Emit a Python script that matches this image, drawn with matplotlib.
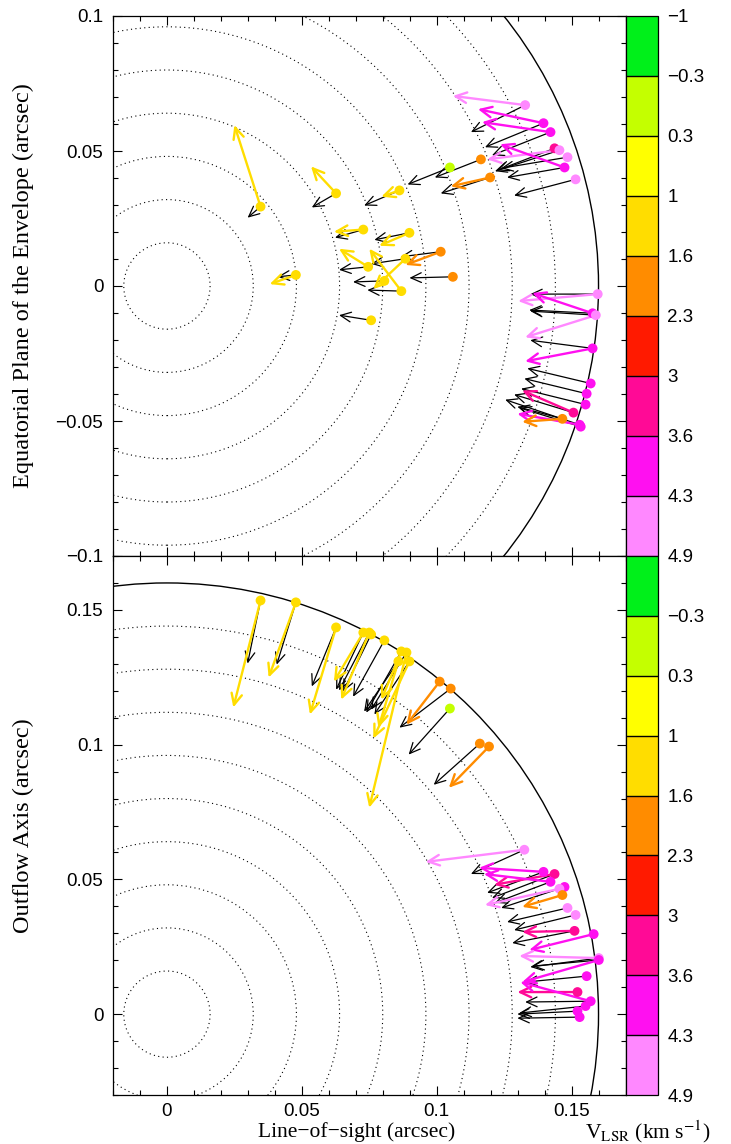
import numpy as np
import matplotlib
matplotlib.use("Agg")
import matplotlib.pyplot as plt
from matplotlib.colors import ListedColormap, BoundaryNorm
from matplotlib.patches import Circle
from matplotlib.ticker import MultipleLocator, FixedLocator

# ---------------- data ----------------
vel_bounds = [-1, -0.3, 0.3, 1, 1.6, 2.3, 3, 3.6, 4.3, 4.9]
vel_labels = ["\u22121", "\u22120.3", "0.3", "1", "1.6", "2.3", "3", "3.6", "4.3", "4.9"]
band_colors = ["#00f01a", "#c4ff00", "#ffff00", "#ffdd00", "#ff8c00",
               "#ff1a00", "#ff0a96", "#ff10f0", "#ff88ff"]

ring_radii = [0.016, 0.032, 0.048, 0.064, 0.080, 0.096, 0.112, 0.128, 0.144]
shell_radius = 0.16

# Top panel (equatorial plane): spot position, velocity, coloured-arrow tip, black-arrow tip
top_x = [0.0347, 0.0627, 0.0862, 0.0478, 0.0728, 0.0899, 0.0746, 0.0869, 0.0884, 0.0806,
         0.1015, 0.1060, 0.0757, 0.1328, 0.1396, 0.1422, 0.1437, 0.1455, 0.1485, 0.1474,
         0.1515, 0.1164, 0.1198, 0.1049, 0.1597, 0.1578, 0.1590, 0.1578, 0.1571, 0.1556,
         0.1552, 0.1507, 0.1530, 0.1466, 0.1534]
top_y = [0.0294, 0.0343, 0.0354, 0.0041, 0.0209, 0.0197, 0.0071, -0.0019, 0.0101, 0.0019,
         0.0127, 0.0034, -0.0127, 0.0670, 0.0603, 0.0570, 0.0510, 0.0503, 0.0477, 0.0439,
         0.0395, 0.0469, 0.0402, 0.0439, -0.0030, -0.0101, -0.0108, -0.0231, -0.0361, -0.0399,
         -0.0439, -0.0469, -0.0514, -0.0492, -0.0521]
top_v = [1.3, 1.3, 1.3, 1.3, 1.3, 1.3, 1.3, 1.3, 1.3, 1.3,
         2.0, 2.0, 1.3, 4.6, 4.0, 4.0, 3.3, 4.6, 4.6, 4.0,
         4.6, 2.0, 2.0, 0.0, 4.6, 4.0, 4.6, 4.0, 4.0, 4.0,
         4.0, 3.3, 4.0, 2.0, 4.0]
nan = np.nan
top_cx = [0.0250, 0.0534, 0.0795, 0.0381, 0.0619, 0.0787, 0.0638, 0.0750, 0.0765, nan,
          0.0884, nan, nan, 0.1060, 0.1153, 0.1168, nan, 0.1187, nan, 0.1235,
          nan, nan, 0.1052, nan, 0.1302, 0.1354, 0.1328, 0.1328, nan, nan,
          nan, 0.1317, 0.1299, 0.1317, nan]
top_cy = [0.0596, 0.0443, 0.0331, 0.0007, 0.0201, 0.0149, 0.0138, 0.0138, -0.0011, nan,
          0.0078, nan, nan, 0.0704, 0.0655, 0.0607, nan, 0.0469, nan, 0.0525,
          nan, nan, 0.0369, nan, -0.0056, -0.0026, -0.0190, -0.0279, nan, nan,
          nan, -0.0387, -0.0473, -0.0503, nan]
top_bx = [0.0299, 0.0537, 0.0731, 0.0410, 0.0623, 0.0769, 0.0638, 0.0743, 0.0757, 0.0690,
          0.0866, 0.0899, 0.0638, 0.1127, 0.1179, 0.1205, 0.1224, 0.1216, 0.1239, 0.1261,
          0.1287, 0.0993, 0.1015, 0.0892, 0.1347, 0.1343, 0.1347, 0.1347, 0.1336, 0.1325,
          0.1313, 0.1287, 0.1254, 0.1299, 0.1306]
top_by = [0.0253, 0.0291, 0.0298, 0.0034, 0.0179, 0.0171, 0.0060, -0.0015, 0.0082, 0.0015,
          0.0108, 0.0030, -0.0108, 0.0570, 0.0514, 0.0484, 0.0428, 0.0425, 0.0436, 0.0402,
          0.0335, 0.0402, 0.0343, 0.0376, -0.0030, -0.0089, -0.0093, -0.0201, -0.0305, -0.0343,
          -0.0380, -0.0402, -0.0421, -0.0447, -0.0451]

# Bottom panel (outflow axis)
bot_x = [0.0347, 0.0478, 0.0627, 0.0728, 0.0750, 0.0757, 0.0806, 0.0869, 0.0888, 0.0899,
         0.0858, 0.1011, 0.1052, 0.1049, 0.1160, 0.1194, 0.1325, 0.1396, 0.1437, 0.1422,
         0.1474, 0.1455, 0.1466, 0.1485, 0.1515, 0.1511, 0.1582, 0.1601, 0.1601, 0.1556,
         0.1522, 0.1571, 0.1552, 0.1522, 0.1530]
bot_y = [0.1535, 0.1528, 0.1435, 0.1416, 0.1416, 0.1409, 0.1387, 0.1346, 0.1342, 0.1309,
         0.1309, 0.1234, 0.1208, 0.1134, 0.1004, 0.0993, 0.0610, 0.0528, 0.0520, 0.0491,
         0.0472, 0.0465, 0.0442, 0.0394, 0.0368, 0.0309, 0.0297, 0.0208, 0.0201, 0.0141,
         0.0082, 0.0048, 0.0030, 0.0011, -0.0011]
bot_v = [1.3, 1.3, 1.3, 1.3, 1.3, 1.3, 1.3, 1.3, 1.3, 1.3,
         1.3, 2.0, 2.0, 0.0, 2.0, 2.0, 4.6, 4.0, 3.3, 4.0,
         4.0, 4.6, 2.0, 4.6, 4.6, 3.3, 4.0, 4.6, 4.0, 4.0,
         3.3, 4.0, 4.0, 4.0, 4.0]
bot_cx = [0.0246, 0.0377, 0.0530, 0.0619, 0.0646, nan, nan, 0.0795, 0.0750, 0.0765,
          0.0784, 0.0888, nan, nan, nan, 0.1045, 0.0959, 0.1157, 0.1213, 0.1175,
          nan, 0.1179, 0.1317, nan, nan, 0.1317, 0.1343, 0.1306, 0.1317, nan,
          0.1299, 0.1310, nan, nan, nan]
bot_cy = [0.1138, 0.1249, 0.1112, 0.1234, 0.1167, nan, nan, 0.1167, 0.0766, 0.1023,
          0.1063, 0.1074, nan, nan, nan, 0.0840, 0.0565, 0.0543, 0.0480, 0.0520,
          nan, 0.0405, 0.0398, nan, nan, 0.0305, 0.0238, 0.0216, 0.0119, nan,
          0.0082, 0.0119, nan, nan, nan]
bot_bx = [0.0299, 0.0407, 0.0537, 0.0627, 0.0638, 0.0653, 0.0690, 0.0739, 0.0757, 0.0769,
          0.0731, nan, 0.0862, 0.0896, 0.0989, nan, 0.1127, 0.1187, 0.1205, 0.1216,
          0.1239, nan, nan, 0.1261, 0.1287, 0.1280, nan, 0.1347, 0.1354, 0.1328,
          nan, 0.1328, 0.1306, 0.1299, 0.1299]
bot_by = [0.1301, 0.1297, 0.1216, 0.1204, 0.1201, 0.1197, 0.1178, 0.1119, 0.1130, 0.1112,
          0.1123, nan, 0.1063, 0.0963, 0.0851, nan, 0.0520, 0.0450, 0.0431, 0.0413,
          0.0394, nan, nan, 0.0342, 0.0312, 0.0264, nan, 0.0175, 0.0178, 0.0119,
          nan, 0.0045, 0.0004, 0.0000, -0.0015]

# ---------------- figure ----------------
W, H = 731, 1144
fig = plt.figure(figsize=(W / 100, H / 100), dpi=100)
plt.rcParams["mathtext.fontset"] = "stix"

cmap = ListedColormap(band_colors)
norm = BoundaryNorm(vel_bounds, cmap.N)

tick_font = dict(family="Liberation Sans", size=13.5)
ylab_font = dict(family="Liberation Serif", size=17.5)
xlab_font = dict(family="Liberation Serif", size=15.5)


def px_rect(x0, y0, x1, y1):
    return [x0 / W, 1 - y1 / H, (x1 - x0) / W, (y1 - y0) / H]


def style_axes(ax, xlim, ylim, yticks, ylabels, show_x):
    ax.set_xlim(*xlim)
    ax.set_ylim(*ylim)
    ax.xaxis.set_major_locator(FixedLocator([0, 0.05, 0.1, 0.15]))
    ax.xaxis.set_minor_locator(MultipleLocator(0.01))
    ax.yaxis.set_major_locator(FixedLocator(yticks))
    ax.yaxis.set_minor_locator(MultipleLocator(0.01))
    ax.tick_params(which="both", direction="in", top=True, right=True, width=0.8)
    ax.tick_params(which="major", length=6.5)
    ax.tick_params(which="minor", length=3.5)
    ax.tick_params(axis="y", pad=7)
    ax.tick_params(axis="x", pad=6)
    ax.set_yticklabels(ylabels, **tick_font)
    if show_x:
        ax.set_xticklabels(["0", "0.05", "0.1", "0.15"], **tick_font)
    else:
        ax.set_xticklabels([])
    for s in ax.spines.values():
        s.set_linewidth(0.9)


def draw_rings(ax):
    for r in ring_radii:
        ax.add_patch(Circle((0, 0), r, fill=False, ec="black", lw=0.8,
                            ls=(0, (1, 3)), zorder=1))
    ax.add_patch(Circle((0, 0), shell_radius, fill=False, ec="black", lw=1.0, zorder=1))


def draw_spots(ax, xs, ys, vs, cxs, cys, bxs, bys):
    cols = [cmap(norm(v)) for v in vs]
    for x, y, bx, by in zip(xs, ys, bxs, bys):
        if np.isfinite(bx):
            ax.annotate("", xy=(bx, by), xytext=(x, y),
                        arrowprops=dict(arrowstyle="->,head_length=0.75,head_width=0.35",
                                        color="black", lw=0.9, shrinkA=0, shrinkB=0),
                        zorder=2)
    for x, y, cx, cy, c in zip(xs, ys, cxs, cys, cols):
        if np.isfinite(cx):
            ax.annotate("", xy=(cx, cy), xytext=(x, y),
                        arrowprops=dict(arrowstyle="->,head_length=0.8,head_width=0.38",
                                        color=c, lw=1.7, shrinkA=0, shrinkB=0),
                        zorder=3)
    ax.scatter(xs, ys, s=50, c=cols, edgecolors="none", zorder=4)


def draw_cbar(cax, labels):
    sm = plt.cm.ScalarMappable(cmap=cmap, norm=norm)
    cb = fig.colorbar(sm, cax=cax, boundaries=vel_bounds, spacing="uniform")
    cb.set_ticks(vel_bounds)
    cb.ax.invert_yaxis()
    cb.set_ticklabels(labels)
    cb.ax.tick_params(length=0, pad=7)
    for t in cb.ax.get_yticklabels():
        t.set_fontfamily("Liberation Sans")
        t.set_fontsize(13.5)
    for b in vel_bounds[1:-1]:
        cb.ax.axhline(b, color="black", lw=1.0)
    cb.outline.set_linewidth(0.9)
    return cb


# top panel
ax1 = fig.add_axes(px_rect(113, 16, 625.5, 556))
draw_rings(ax1)
draw_spots(ax1, top_x, top_y, top_v, top_cx, top_cy, top_bx, top_by)
style_axes(ax1, (-0.02, 0.17), (-0.1, 0.1), [-0.1, -0.05, 0, 0.05, 0.1],
           ["\u22120.1", "\u22120.05", "0", "0.05", "0.1"], False)
ax1.set_ylabel("Equatorial Plane of the Envelope (arcsec)", **ylab_font)
ax1.yaxis.set_label_coords(-0.155, 0.5)

# bottom panel
ax2 = fig.add_axes(px_rect(113, 556, 625.5, 1095))
draw_rings(ax2)
draw_spots(ax2, bot_x, bot_y, bot_v, bot_cx, bot_cy, bot_bx, bot_by)
style_axes(ax2, (-0.02, 0.17), (-0.03, 0.17), [0, 0.05, 0.1, 0.15],
           ["0", "0.05", "0.1", "0.15"], True)
ax2.set_ylabel("Outflow Axis (arcsec)", **ylab_font)
ax2.yaxis.set_label_coords(-0.155, 0.5)
ax2.set_xlabel("Line\u2212of\u2212sight (arcsec)", **xlab_font)
ax2.xaxis.set_label_coords(0.475, -0.05)

# colour bars
cax1 = fig.add_axes(px_rect(625.5, 16, 657.5, 556))
draw_cbar(cax1, vel_labels)
cax2 = fig.add_axes(px_rect(625.5, 556, 657.5, 1095))
draw_cbar(cax2, [""] + vel_labels[1:])

fig.text(648 / W, 1 - 1132 / H, r"V$_{\rm LSR}$ (km s$^{-1}$)", ha="center", va="center",
         family="Liberation Serif", size=15.5)

fig.savefig("out.png", dpi=100)
